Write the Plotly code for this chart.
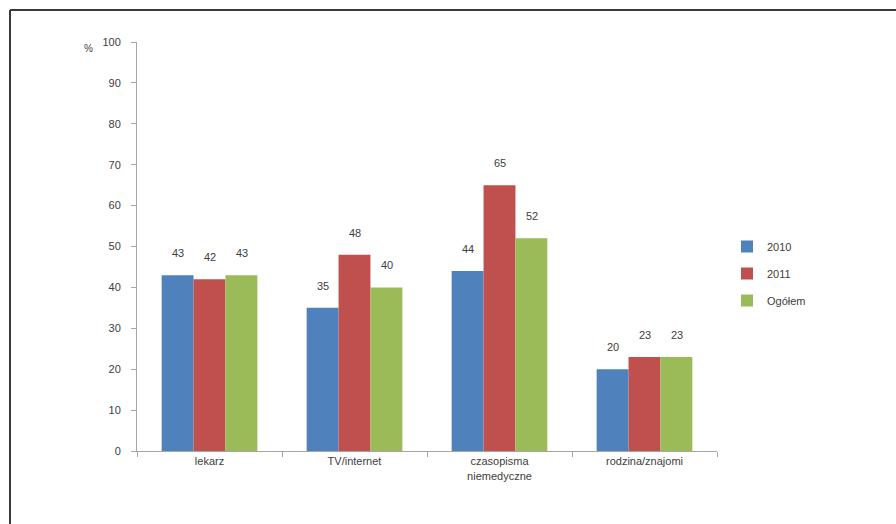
import plotly.graph_objects as go

categories = ["lekarz", "TV/internet", "czasopisma<br>niemedyczne", "rodzina/znajomi"]
series_names = ["2010", "2011", "Ogółem"]
v2010 = [43, 35, 44, 20]
v2011 = [42, 48, 65, 23]
vall = [43, 40, 52, 23]
colors = ["#4F81BD", "#C0504D", "#9BBB59"]
y_ticks = [0, 10, 20, 30, 40, 50, 60, 70, 80, 90, 100]

FONT = "Liberation Sans Narrow, Liberation Sans, Arial"

W, H = 896, 524
L, R, T, B = 137, 179, 42, 73
pw, ph = W - L - R, H - T - B

def px_x(x):
    return (x - L) / pw

def px_y(y):
    return 1 - (y - T) / ph

fig = go.Figure()
annotations = []
offsets = [-32, 0, 32]
for name, vals, col, off in zip(series_names, [v2010, v2011, vall], colors, offsets):
    fig.add_trace(go.Bar(
        x=categories, y=vals, name=name, marker_color=col, marker_line_width=0,
        legendgroup=name,
    ))
    for c, v in zip(categories, vals):
        annotations.append(dict(x=c, y=v, text=str(v), showarrow=False,
                                xshift=off, yshift=22, yanchor="middle",
                                font=dict(size=11, color="#404040", family=FONT)))

annotations.append(dict(text="%", xref="paper", yref="paper", x=px_x(82), y=px_y(41),
                        showarrow=False, font=dict(size=10, color="#404040", family=FONT)))

fig.update_layout(
    width=W, height=H,
    margin=dict(l=L, r=R, t=T, b=B, pad=0),
    paper_bgcolor="white", plot_bgcolor="white",
    barmode="group", bargap=0.34, bargroupgap=0,
    font=dict(family=FONT, size=11, color="#404040"),
    showlegend=True,
    legend=dict(x=px_x(727), y=px_y(232), xanchor="left", yanchor="top",
                font=dict(size=11, color="#404040", family=FONT),
                traceorder="grouped", tracegroupgap=8, itemwidth=30,
                bgcolor="rgba(0,0,0,0)"),
    xaxis=dict(showline=True, linecolor="#A6A6A6", linewidth=1,
               ticks="outside", tickson="boundaries", ticklen=5, tickcolor="#A6A6A6",
               tickfont=dict(size=11, color="#404040", family=FONT),
               showgrid=False),
    yaxis=dict(range=[0, 100], tickvals=y_ticks, showline=True, linecolor="#A6A6A6",
               linewidth=1, ticks="outside", ticklen=5, tickcolor="#A6A6A6",
               ticklabelstandoff=8,
               tickfont=dict(size=11, color="#404040", family=FONT),
               showgrid=False, zeroline=False),
    shapes=[
        dict(type="line", xref="paper", yref="paper", x0=px_x(10), x1=px_x(900),
             y0=px_y(10), y1=px_y(10), line=dict(color="#3a3a3a", width=2)),
        dict(type="line", xref="paper", yref="paper", x0=px_x(10), x1=px_x(10),
             y0=px_y(10), y1=px_y(530), line=dict(color="#3a3a3a", width=2)),
    ],
    annotations=annotations,
)

fig.write_html("out.html")
